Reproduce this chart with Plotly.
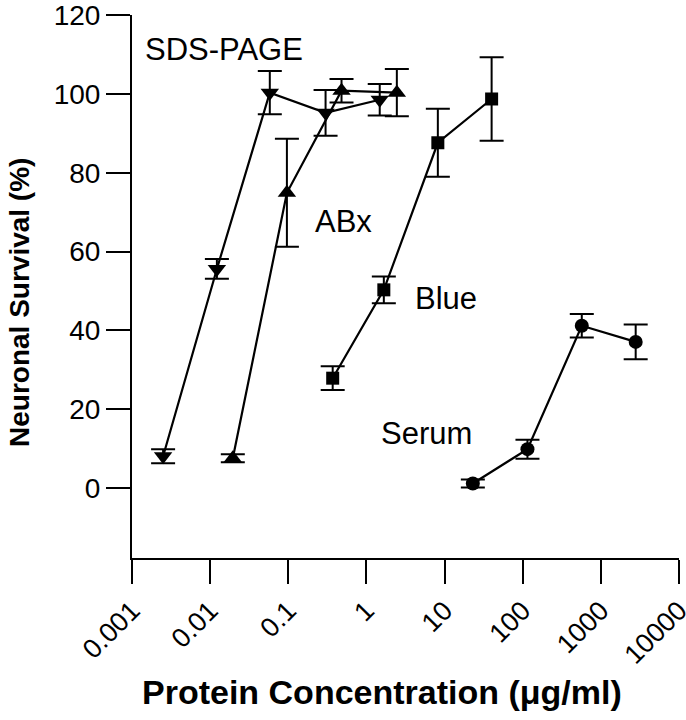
import plotly.graph_objects as go

# ---- data ----
sds_x = [0.0025, 0.0122, 0.058, 0.30, 1.48]
sds_y = [8.1, 55.6, 100.3, 95.2, 98.5]
sds_err = [1.8, 2.5, 5.5, 5.8, 4.0]

abx_x = [0.0195, 0.096, 0.48, 2.45]
abx_y = [7.6, 74.9, 100.8, 100.3]
abx_err = [1.0, 13.7, 3.0, 6.0]

blue_x = [0.37, 1.67, 8.2, 40]
blue_y = [27.9, 50.3, 87.6, 98.7]
blue_err = [3.0, 3.4, 8.6, 10.6]

serum_x = [23, 115, 570, 2790]
serum_y = [1.2, 9.9, 41.2, 37.1]
serum_err = [1.0, 2.4, 3.0, 4.4]

x_tickvals = [0.001, 0.01, 0.1, 1, 10, 100, 1000, 10000]
x_ticktext = ["0.001", "0.01", "0.1", "1", "10", "100", "1000", "10000"]
y_tickvals = [0, 20, 40, 60, 80, 100, 120]

series = [
    ("SDS-PAGE", sds_x, sds_y, sds_err, "triangle-down", 16),
    ("ABx", abx_x, abx_y, abx_err, "triangle-up", 16),
    ("Blue", blue_x, blue_y, blue_err, "square", 13),
    ("Serum", serum_x, serum_y, serum_err, "circle", 14),
]

FONT = "Liberation Sans, Arial, Helvetica, sans-serif"
W, H = 686, 720
L, R, T, B = 132, 679, 15, 558   # plot-area edges in pixels

def px(xp):
    return (xp - L) / (R - L)

def py(yp):
    return (B - yp) / (B - T)

fig = go.Figure()
for name, xs, ys, es, sym, sz in series:
    fig.add_trace(go.Scatter(
        x=xs, y=ys, mode="lines+markers", name=name,
        line=dict(color="black", width=2.2),
        marker=dict(symbol=sym, size=sz, color="black"),
        error_y=dict(type="data", array=es, visible=True, color="black",
                     thickness=2, width=12),
        showlegend=False, cliponaxis=False,
    ))

labels = [
    ("SDS-PAGE", 143, 50),
    ("ABx", 313, 221),
    ("Blue", 413, 298),
    ("Serum", 379, 433),
]
for txt, xp, yp in labels:
    fig.add_annotation(text=txt, xref="paper", yref="paper",
                       x=px(xp), y=py(yp),
                       xanchor="left", yanchor="middle", showarrow=False,
                       font=dict(family=FONT, size=31, color="black"))

fig.add_annotation(text="<b>Neuronal Survival (%)</b>", xref="paper", yref="paper",
                   x=px(19), y=py(303),
                   xanchor="center", yanchor="middle", textangle=-90, showarrow=False,
                   font=dict(family=FONT, size=28, color="black"))
fig.add_annotation(text="<b>Protein Concentration (\u03bcg/ml)</b>", xref="paper", yref="paper",
                   x=px(382), y=py(692),
                   xanchor="center", yanchor="middle", showarrow=False,
                   font=dict(family=FONT, size=34, color="black"))

fig.update_xaxes(type="log", range=[-3, 4], tickvals=x_tickvals, ticktext=x_ticktext,
                 tickangle=-45, ticks="outside", ticklen=24, tickwidth=2, tickcolor="black",
                 showline=True, linecolor="black", linewidth=2, showgrid=False, zeroline=False,
                 automargin=False, ticklabeloverflow="allow",
                 tickfont=dict(family=FONT, size=27, color="black"))
fig.update_yaxes(range=[-17.7, 120], tickvals=y_tickvals, ticks="outside", ticklen=24,
                 tickwidth=2, tickcolor="black", showline=True, linecolor="black", linewidth=2,
                 showgrid=False, zeroline=False, automargin=False, ticklabeloverflow="allow",
                 tickfont=dict(family=FONT, size=28, color="black"))

fig.update_layout(width=W, height=H,
                  margin=dict(l=L, r=W - R, t=T, b=H - B),
                  plot_bgcolor="white", paper_bgcolor="white")

# remove the page's default 8px body margin so the figure sits at the top-left corner
fig.write_html("out.html", config={"displayModeBar": False},
               post_script="document.body.style.margin='0';")
